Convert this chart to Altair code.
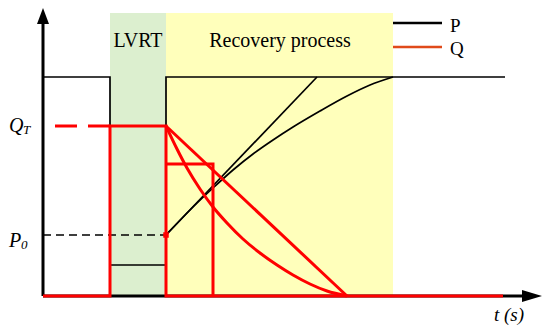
import altair as alt
import pandas as pd

# ---- diagram units: t = time (horizontal), v = magnitude (vertical) ----
# background regions
band_name = ["LVRT", "Recovery process"]
band_t0 = [67, 123]
band_t1 = [123, 350]
band_top = [283, 283]
band_color = ["#dcefcf", "#ffffbb"]

# active power P
p_step_t = [0, 67, 67, 123, 123, 462]
p_step_v = [219, 219, 31, 31, 219, 219]
p_lin_t = [123, 274]
p_lin_v = [61, 219]
p_curve_t = [123, 150, 170, 190, 210, 230, 250, 277, 304, 327, 350]
p_curve_v = [61, 89, 108, 126, 142, 156, 169, 185, 200, 211, 219]
p0_dash_t = [0, 123]
p0_dash_v = [61, 61]

# reactive power Q
q_step_t = [0, 67, 67, 123, 123, 460]
q_step_v = [0, 0, 170, 170, 0, 0]
q_dash_t = [12, 67]
q_dash_v = [170, 170]
q_lin_t = [123, 304]
q_lin_v = [170, 0]
q_rect_t = [123, 170, 170]
q_rect_v = [132, 132, 0]
q_curve_t = [123, 134, 144, 157, 170, 184, 200, 217, 234, 250, 267, 284, 304]
q_curve_v = [170, 147, 128, 107, 89, 73, 57, 43, 31, 21, 12, 5, 0]

# axes
y_axis_t = [0, 0]
y_axis_v = [0, 276]
x_axis_t = [0, 480]
x_axis_v = [0, 0]

# legend
legend_name = ["P", "Q"]
legend_color = ["#000000", "#e04a1a"]
legend_t0 = [350, 350]
legend_t1 = [399, 399]
legend_v = [273, 249]

X_DOM = [-35, 499]
Y_DOM = [-31, 288]
FONT = "Liberation Serif"


def xs(field="t"):
    return alt.X(f"{field}:Q", scale=alt.Scale(domain=X_DOM, nice=False, zero=False), axis=None)


def ys(field="v"):
    return alt.Y(f"{field}:Q", scale=alt.Scale(domain=Y_DOM, nice=False, zero=False), axis=None)


def path_df(series):
    rows = []
    for name, ts, vs in series:
        for i, (t, v) in enumerate(zip(ts, vs)):
            rows.append({"series": name, "idx": i, "t": t, "v": v})
    return pd.DataFrame(rows)


def lines(df, color, width, dash=None, interp="linear"):
    kw = dict(color=color, strokeWidth=width, strokeJoin="miter", interpolate=interp)
    if dash:
        kw["strokeDash"] = dash
    return alt.Chart(df).mark_line(**kw).encode(
        x=xs(), y=ys(), detail="series:N", order="idx:Q"
    )


bands = pd.DataFrame({"name": band_name, "t0": band_t0, "t1": band_t1,
                      "top": band_top, "color": band_color, "bot": [0, 0]})
band_layer = alt.Chart(bands).mark_rect().encode(
    x=xs("t0"), x2="t1", y=ys("bot"), y2="top",
    color=alt.Color("color:N", scale=None),
)

axis_df = path_df([("y", y_axis_t, y_axis_v), ("x", x_axis_t, x_axis_v)])
axis_layer = lines(axis_df, "#000000", 3)

arrows = pd.DataFrame({"t": [0, 489], "v": [280, 0],
                       "shape": ["M0,-1L0.75,1L-0.75,1Z", "M1,0L-1,-0.6L-1,0.6Z"],
                       "size": [256, 400]})
arrow_layer = alt.Chart(arrows).mark_point(filled=True, color="#000000", opacity=1, strokeWidth=0).encode(
    x=xs(), y=ys(), shape=alt.Shape("shape:N", scale=None), size=alt.Size("size:Q", scale=None)
)

p_layer = lines(path_df([("step", p_step_t, p_step_v), ("lin", p_lin_t, p_lin_v)]), "#000000", 1.7)
p_curve_layer = lines(path_df([("curve", p_curve_t, p_curve_v)]), "#000000", 1.7, interp="monotone")
p0_layer = lines(path_df([("p0", p0_dash_t, p0_dash_v)]), "#000000", 1.7, [8, 5])

q_layer = lines(path_df([("step", q_step_t, q_step_v), ("lin", q_lin_t, q_lin_v),
                         ("rect", q_rect_t, q_rect_v)]), "#ff0000", 3)
q_curve_layer = lines(path_df([("curve", q_curve_t, q_curve_v)]), "#ff0000", 3, interp="monotone")
qd_layer = lines(path_df([("qt", q_dash_t, q_dash_v)]), "#ff0000", 3, [22, 11])

dot_layer = alt.Chart(pd.DataFrame({"t": [123], "v": [61]})).mark_point(
    shape="square", filled=True, color="#ff0000", size=30, opacity=1
).encode(x=xs(), y=ys())

leg = pd.DataFrame({"name": legend_name, "color": legend_color, "t0": legend_t0,
                    "t1": legend_t1, "v": legend_v})
leg_lines = alt.Chart(leg).mark_rule(strokeWidth=2.5).encode(
    x=xs("t0"), x2="t1", y=ys(), color=alt.Color("color:N", scale=None)
)
leg_text = alt.Chart(pd.DataFrame({"name": legend_name, "t": [407, 407], "v": [264, 241]})).mark_text(
    font=FONT, fontSize=19, align="left", baseline="alphabetic", color="#000000"
).encode(x=xs(), y=ys(), text="name:N")

band_text = alt.Chart(pd.DataFrame({"name": band_name, "t": [95, 237], "v": [249, 249]})).mark_text(
    font=FONT, fontSize=20, align="center", baseline="alphabetic", color="#000000"
).encode(x=xs(), y=ys(), text="name:N")

main_lab = alt.Chart(pd.DataFrame({"lab": ["Q", "P"], "t": [-34, -34], "v": [164, 49]})).mark_text(
    font=FONT, fontSize=20, fontStyle="italic", align="left", baseline="alphabetic", color="#000000"
).encode(x=xs(), y=ys(), text="lab:N")
sub_lab = alt.Chart(pd.DataFrame({"lab": ["T", "0"], "t": [-20, -22], "v": [162, 47]})).mark_text(
    font=FONT, fontSize=13, fontStyle="italic", align="left", baseline="alphabetic", color="#000000"
).encode(x=xs(), y=ys(), text="lab:N")
t_lab = alt.Chart(pd.DataFrame({"lab": ["t  (s)"], "t": [466], "v": [-25]})).mark_text(
    font=FONT, fontSize=19, fontStyle="italic", align="center", baseline="alphabetic", color="#000000"
).encode(x=xs(), y=ys(), text="lab:N")

chart = alt.layer(
    band_layer, axis_layer, arrow_layer, p_layer, p_curve_layer, p0_layer, q_layer, q_curve_layer,
    qd_layer, dot_layer, leg_lines, leg_text, band_text, main_lab, sub_lab, t_lab
).properties(
    width=534, height=319, autosize=alt.AutoSizeParams(type="none"), padding=0,
    background="#ffffff"
).configure_view(stroke=None)

chart.save("out.html", embed_options={"renderer": "svg", "actions": False})
